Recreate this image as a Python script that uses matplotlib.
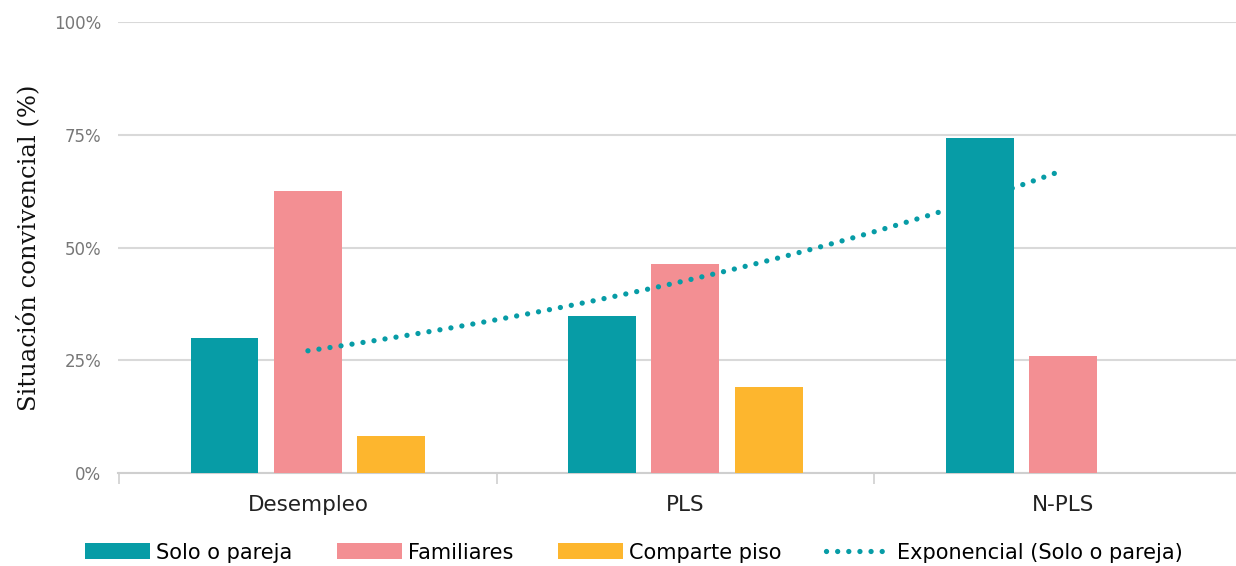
import matplotlib
matplotlib.use("Agg")
import matplotlib.pyplot as plt
import numpy as np

# datos
categorias = ["Desempleo", "PLS", "N-PLS"]
solo_pareja = [30.0, 34.8, 74.3]
familiares = [62.5, 46.4, 25.9]
comparte_piso = [8.2, 19.1, 0.0]
yticks = [0, 25, 50, 75, 100]
ytick_labels = ["0%", "25%", "50%", "75%", "100%"]

c_solo = "#079ca6"
c_fam = "#f38f93"
c_piso = "#fdb62e"

plt.rcParams["font.family"] = ["DejaVu Sans"]

fig = plt.figure(figsize=(12.36, 5.66), dpi=100)
ax = fig.add_axes([0.0955, 0.1643, 0.905, 0.7968])

x = np.arange(len(categorias))
w = 0.18
off = 0.221
ax.bar(x - off, solo_pareja, w, color=c_solo, label="Solo o pareja", zorder=3)
ax.bar(x, familiares, w, color=c_fam, label="Familiares", zorder=3)
ax.bar(x + off, comparte_piso, w, color=c_piso, label="Comparte piso", zorder=3)

# linea de tendencia exponencial (ajuste sobre Solo o pareja)
b, a = np.polyfit(x, np.log(solo_pareja), 1)
xt = np.linspace(x[0], x[-1], 100)
ax.plot(xt, np.exp(a + b * xt), linestyle=(0, (0.01, 2.1)), color=c_solo,
        linewidth=3.8, dash_capstyle="round", label="Exponencial (Solo o pareja)", zorder=4)

ax.set_xlim(-0.503, 2.46)
ax.set_ylim(0, 100)
ax.set_yticks(yticks)
ax.set_yticklabels(ytick_labels, color="#777777", fontsize=12)
ax.tick_params(axis="y", length=0, pad=12)
ax.set_xticks(x)
ax.set_xticklabels(categorias, fontsize=15.5, color="#222222")
ax.tick_params(axis="x", which="major", length=0, pad=16)
ax.set_xticks([-0.5, 0.5, 1.5], minor=True)
ax.tick_params(axis="x", which="minor", length=8, color="#cfcfcf", width=1.2)
ax.grid(axis="y", color="#d9d9d9", linewidth=1.5, zorder=0)
ax.set_axisbelow(True)
for s in ["top", "right", "left"]:
    ax.spines[s].set_visible(False)
ax.spines["bottom"].set_color("#cfcfcf")
ax.spines["bottom"].set_linewidth(1.5)

ax.set_ylabel("Situación convivencial (%)", fontsize=17.5, family="DejaVu Serif",
              color="#111111", labelpad=10)

handles, labels = ax.get_legend_handles_labels()
orden = [1, 2, 3, 0]
fig.legend([handles[i] for i in orden], [labels[i] for i in orden],
           loc="lower center", bbox_to_anchor=(0.513, -0.027), ncol=4,
           frameon=False, fontsize=15, handlelength=3.1, handleheight=0.8,
           columnspacing=2.15, handletextpad=0.3)

fig.savefig("out.png", dpi=100)
